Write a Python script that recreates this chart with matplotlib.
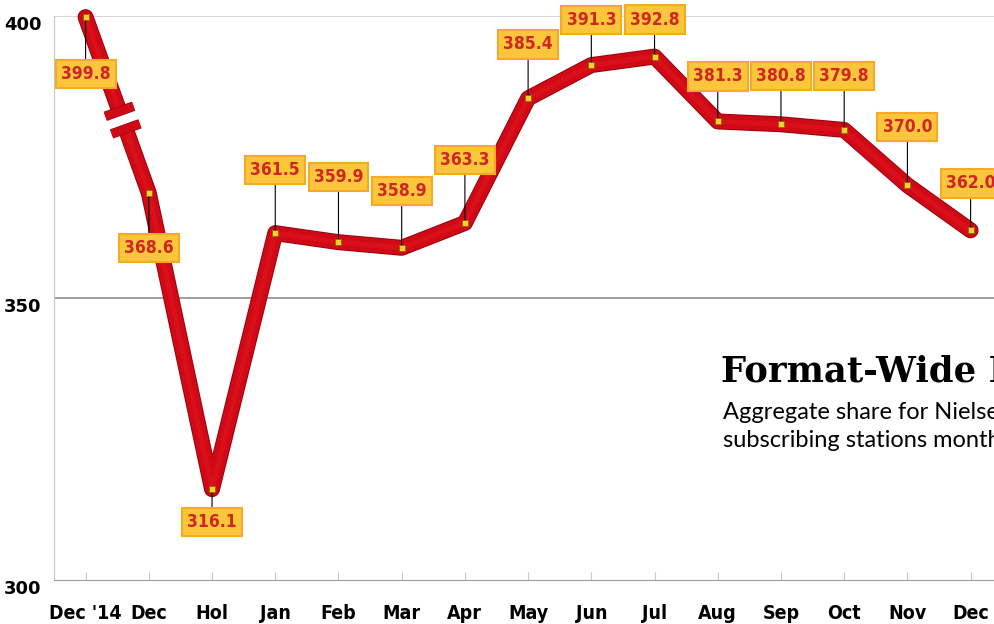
#!/usr/bin/env python3
"""Format-wide monthly share line chart."""
import matplotlib
matplotlib.use("Agg")
import matplotlib.pyplot as plt
import numpy as np
from matplotlib import patheffects as pe

months = ["Dec '14", "Dec", "Hol", "Jan", "Feb", "Mar", "Apr", "May",
          "Jun", "Jul", "Aug", "Sep", "Oct", "Nov", "Dec"]
share = [399.8, 368.6, 316.1, 361.5, 359.9, 358.9, 363.3, 385.4,
         391.3, 392.8, 381.3, 380.8, 379.8, 370.0, 362.0]
y_ticks = [300, 350, 400]

# label box offsets from the point, in pixels (positive = above)
label_off = [-57, -55, -33, 63, 65, 57, 63, 54, 45, 37, 45, 48, 54, 58, 47]

title = "Format-Wide Performance"
subtitle = "Aggregate share for Nielsen\nsubscribing stations monthly"

RED = "#cf0a16"
DARK = "#9e000e"
px = 0.72  # points per pixel at dpi 100


def main() -> None:
    fig = plt.figure(figsize=(9.94, 6.24), dpi=100)
    ax = fig.add_axes([54 / 994, 1 - 580 / 624, 1 - 54 / 994, (580 - 16) / 624])
    x = np.arange(len(share))
    ax.set_xlim(-0.5, 14.37)
    ax.set_ylim(300, 400)

    for s in ["top", "right"]:
        ax.spines[s].set_visible(False)
    ax.spines["left"].set_color("#c8c8c8")
    ax.spines["bottom"].set_color("#9a9a9a")
    ax.axhline(400, color="#cfcfcf", lw=1.2, zorder=0)
    ax.axhline(350, color="#8c8c8c", lw=1.2, zorder=0)

    ax.set_xticks(x)
    ax.set_xticklabels(months, fontsize=14, fontweight="bold",
                       fontstretch="condensed", family="DejaVu Sans")
    ax.tick_params(axis="x", direction="in", length=6, color="#c8c8c8",
                   pad=17)
    ax.set_yticks(y_ticks)
    ax.set_yticklabels([str(t) for t in y_ticks], fontsize=13,
                       fontweight="bold", family="DejaVu Sans")
    ax.tick_params(axis="y", length=0, pad=9)
    for lab in ax.get_yticklabels():
        lab.set_va("top")

    ax.plot(x, share, color=RED, lw=10, solid_capstyle="round",
            solid_joinstyle="round", zorder=3, clip_on=False,
            path_effects=[pe.Stroke(linewidth=11.5, foreground=DARK),
                          pe.Normal()])
    ax.plot(x, share, color="#e3141e", lw=3.5, solid_capstyle="round",
            solid_joinstyle="round", zorder=3, alpha=0.6, clip_on=False)

    # scale-break marks on the first segment
    fig.canvas.draw()
    p0 = ax.transData.transform((x[0], share[0]))
    p1 = ax.transData.transform((x[1], share[1]))
    d = (p1 - p0) / np.linalg.norm(p1 - p0)
    n = np.array([-d[1], d[0]])
    seg = np.linalg.norm(p1 - p0)
    gap_c = p0 + d * seg * 0.585
    gap = np.vstack([gap_c - d * 6, gap_c + d * 6])
    ax.plot(gap[:, 0], gap[:, 1], transform=None, color="white", lw=16,
            solid_capstyle="butt", zorder=4)
    for t in (0.535, 0.635):
        c = p0 + d * seg * t
        bar = np.vstack([c - n * 15, c + n * 15])
        ax.plot(bar[:, 0], bar[:, 1], transform=None, color=RED, lw=6,
                solid_capstyle="butt", zorder=5,
                path_effects=[pe.Stroke(linewidth=7, foreground=DARK),
                              pe.Normal()])

    for xi, v, off in zip(x, share, label_off):
        ax.annotate(f"{v:.1f}", xy=(xi, v), xytext=(0, off * px),
                    textcoords="offset points", ha="center", va="center",
                    fontsize=12.5, fontweight="bold", color="#cf2626",
                    family="DejaVu Sans", fontstretch="condensed",
                    bbox=dict(boxstyle="square,pad=0.3", fc="#fcc63a",
                              ec="#f4a928", lw=1.5),
                    arrowprops=dict(arrowstyle="-", color="black", lw=0.8,
                                    shrinkA=0, shrinkB=0),
                    zorder=6, annotation_clip=False)
    ax.plot(x, share, "s", ms=5, mfc="#f7cf2e", mec="#8a6a00", mew=0.6,
            zorder=7, clip_on=False)

    fig.text(721 / 994, 1 - 382 / 624, title, fontsize=25.5,
             fontweight="bold", family="DejaVu Serif", va="baseline")
    fig.text(723 / 994, 1 - 402 / 624, subtitle, fontsize=17, family="Lato",
             va="top", linespacing=1.4)

    fig.savefig("out.png", dpi=100)
    plt.close(fig)


if __name__ == "__main__":
    main()
